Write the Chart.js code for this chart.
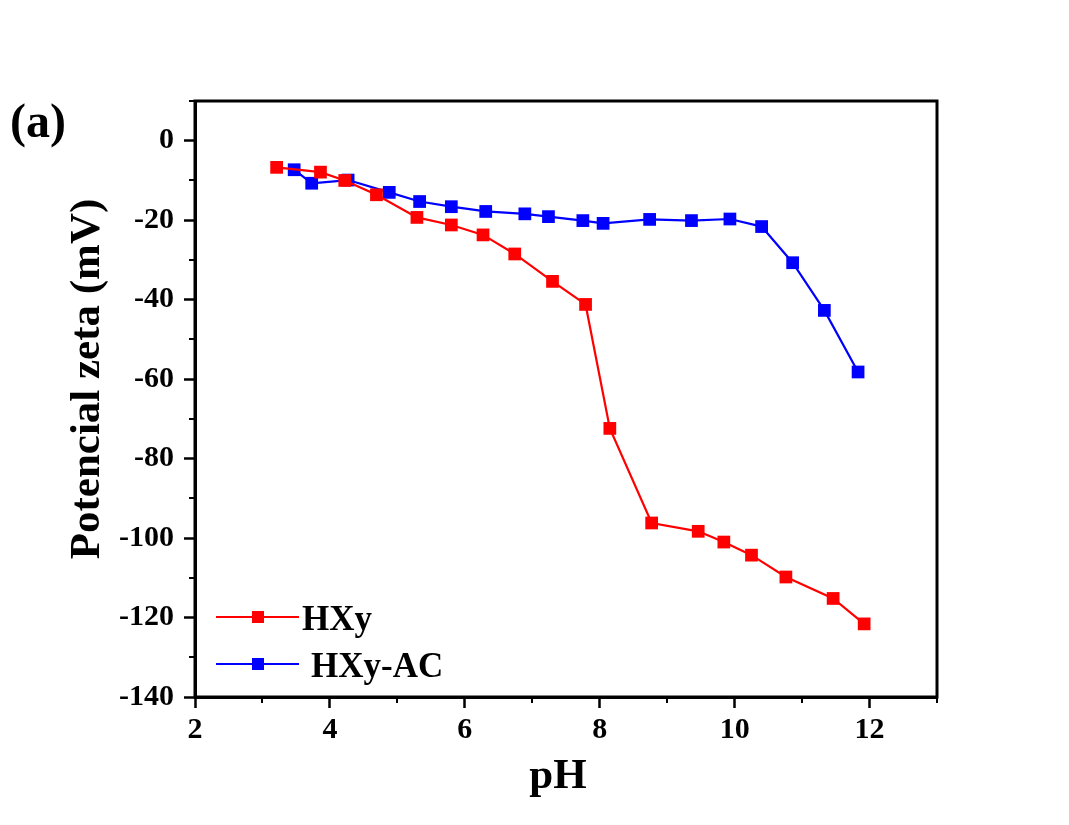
<!DOCTYPE html>
<html>
<head>
<meta charset="utf-8">
<title>Potencial zeta vs pH</title>
<script src="https://cdn.jsdelivr.net/npm/chart.js@4"></script>
<style>
  html, body { margin: 0; padding: 0; background: #fff; }
</style>
</head>
<body>
<canvas id="zetaChart" width="1069" height="825"></canvas>
<script>
// values
const hxyPH = [3.21, 3.86, 4.22, 4.69, 5.29, 5.80, 6.27, 6.74, 7.30, 7.79, 8.15, 8.77, 9.46, 9.84, 10.25, 10.76, 11.46, 11.92];
const hxyZeta = [-6.7, -7.9, -10.0, -13.6, -19.3, -21.2, -23.7, -28.5, -35.4, -41.2, -72.4, -96.2, -98.3, -101.0, -104.3, -109.8, -115.2, -121.6];

const hxyAcPH = [3.47, 3.73, 4.27, 4.88, 5.33, 5.80, 6.31, 6.89, 7.24, 7.75, 8.05, 8.74, 9.36, 9.93, 10.40, 10.86, 11.33, 11.83];
const hxyAcZeta = [-7.3, -10.7, -9.9, -13.0, -15.3, -16.6, -17.8, -18.4, -19.1, -20.1, -20.8, -19.8, -20.1, -19.7, -21.6, -30.7, -42.7, -58.2];

const seriesNames = ["HXy", "HXy-AC"];
const xTicks = [2, 4, 6, 8, 10, 12];
const xMinor = [3, 5, 7, 9, 11, 13];
const yTicks = [-140, -120, -100, -80, -60, -40, -20, 0];
const yMinor = [-130, -110, -90, -70, -50, -30, -10, 10];
const xTitle = "pH";
const yTitle = "Potencial zeta (mV)";

const serif = "'Liberation Serif', 'Times New Roman', serif";

function toPoints(xs, ys) {
  return xs.map((x, i) => ({ x: x, y: ys[i] }));
}

// frame, minor ticks, axis titles, panel letter and the legend inside the plot
const decorations = {
  id: "decorations",
  afterDraw(chart) {
    const ctx = chart.ctx;
    const area = chart.chartArea;
    const xs = chart.scales.x;
    const ys = chart.scales.y;
    ctx.save();
    ctx.strokeStyle = "#000";

    // minor ticks
    ctx.lineWidth = 2;
    xMinor.forEach((v) => {
      const px = Math.round(xs.getPixelForValue(v));
      ctx.beginPath();
      ctx.moveTo(px, area.bottom);
      ctx.lineTo(px, area.bottom + 6);
      ctx.stroke();
    });
    yMinor.forEach((v) => {
      const py = Math.round(ys.getPixelForValue(v));
      ctx.beginPath();
      ctx.moveTo(area.left, py);
      ctx.lineTo(area.left - 6, py);
      ctx.stroke();
    });

    // box
    ctx.lineWidth = 3;
    ctx.strokeRect(area.left, area.top, area.right - area.left, area.bottom - area.top);

    ctx.fillStyle = "#000";
    ctx.textBaseline = "alphabetic";

    // (a)
    ctx.font = "bold 48px " + serif;
    ctx.textAlign = "left";
    ctx.fillText("(a)", 10, 137);

    // axis titles
    ctx.font = "bold 43px " + serif;
    ctx.textAlign = "center";
    ctx.fillText(xTitle, 558, 788);
    ctx.save();
    ctx.translate(99, 379);
    ctx.rotate(-Math.PI / 2);
    ctx.fillText(yTitle, 0, 0);
    ctx.restore();

    // legend
    const rowY = [617, 664];
    const textX = [302, 311];
    ctx.textAlign = "left";
    chart.data.datasets.forEach((ds, i) => {
      const y = rowY[i];
      ctx.strokeStyle = ds.borderColor;
      ctx.lineWidth = 2;
      ctx.beginPath();
      ctx.moveTo(216, y);
      ctx.lineTo(299, y);
      ctx.stroke();
      ctx.fillStyle = ds.backgroundColor;
      ctx.fillRect(252, y - 6, 12, 12);
      ctx.fillStyle = "#000";
      ctx.font = "bold 35px " + serif;
      ctx.fillText(ds.label, textX[i], y + 13);
    });
    ctx.restore();
  },
};

const chart = new Chart(document.getElementById("zetaChart"), {
  type: "line",
  data: {
    datasets: [
      {
        label: seriesNames[0],
        data: toPoints(hxyPH, hxyZeta),
        borderColor: "#ff0000",
        backgroundColor: "#ff0000",
        borderWidth: 2.2,
        pointStyle: "rect",
        pointRadius: 9,
        pointBorderWidth: 0,
        tension: 0,
      },
      {
        label: seriesNames[1],
        data: toPoints(hxyAcPH, hxyAcZeta),
        borderColor: "#0000ff",
        backgroundColor: "#0000ff",
        borderWidth: 2.2,
        pointStyle: "rect",
        pointRadius: 9,
        pointBorderWidth: 0,
        tension: 0,
      },
    ],
  },
  options: {
    responsive: false,
    animation: false,
    devicePixelRatio: 1,
    layout: {
      padding: { top: 101, right: 132, left: 0, bottom: 0 },
    },
    plugins: {
      legend: { display: false },
      tooltip: { enabled: false },
    },
    scales: {
      x: {
        type: "linear",
        position: "bottom",
        min: 2,
        max: 13,
        afterFit: (s) => { s.height = 128; },
        afterBuildTicks: (s) => { s.ticks = xTicks.map((v) => ({ value: v })); },
        grid: {
          drawOnChartArea: false,
          drawTicks: true,
          tickLength: 11,
          tickWidth: 2.5,
          tickColor: "#000",
        },
        border: { display: true, width: 3, color: "#000" },
        ticks: {
          color: "#000",
          padding: 4,
          maxRotation: 0,
          font: { family: serif, weight: "bold", size: 30 },
        },
      },
      y: {
        type: "linear",
        min: -140,
        max: 10,
        afterFit: (s) => { s.width = 195; },
        afterBuildTicks: (s) => { s.ticks = yTicks.map((v) => ({ value: v })); },
        grid: {
          drawOnChartArea: false,
          drawTicks: true,
          tickLength: 11,
          tickWidth: 2.5,
          tickColor: "#000",
        },
        border: { display: true, width: 3, color: "#000" },
        ticks: {
          color: "#000",
          padding: 10,
          font: { family: serif, weight: "bold", size: 30 },
        },
      },
    },
  },
  plugins: [decorations],
});
</script>
</body>
</html>
